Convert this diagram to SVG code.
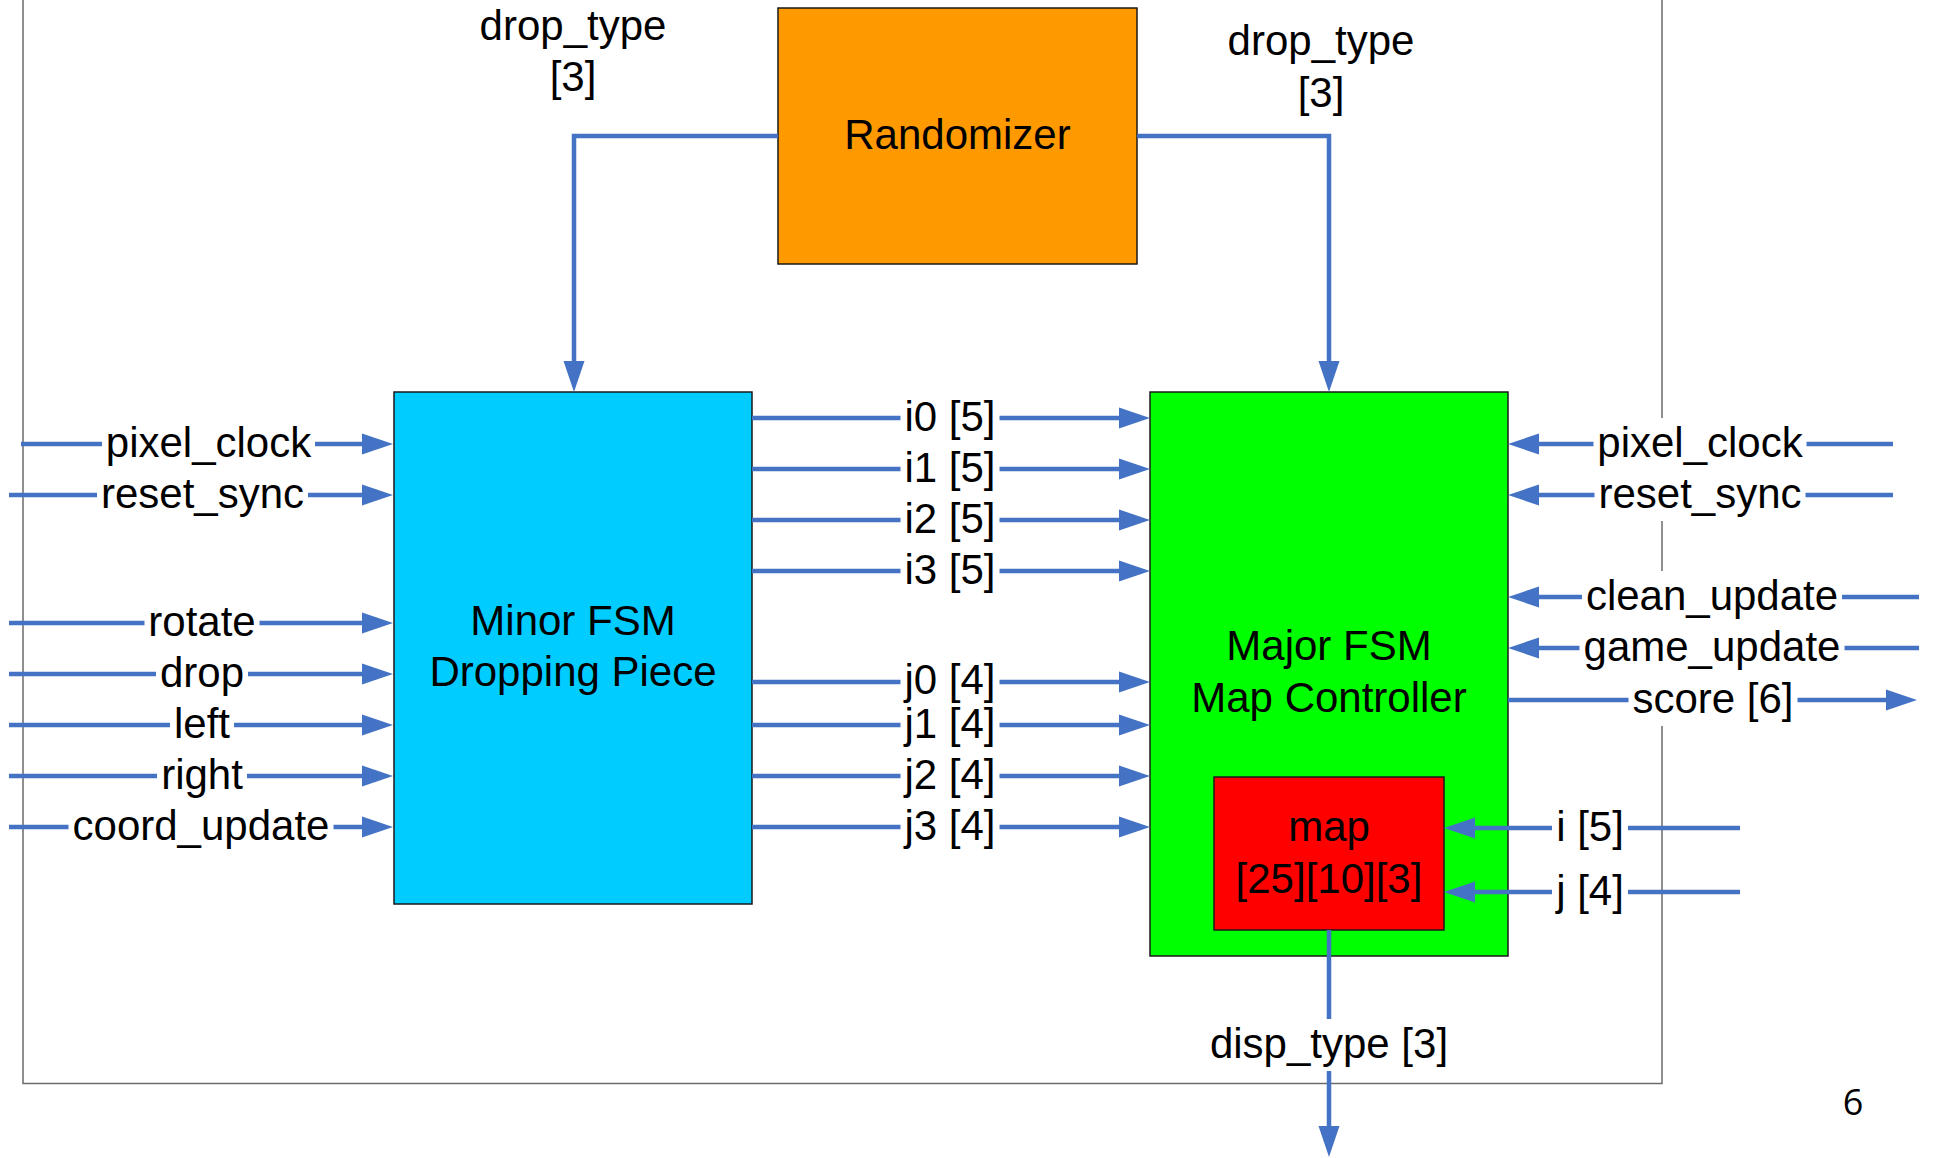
<svg xmlns="http://www.w3.org/2000/svg" width="1933" height="1158" viewBox="0 0 1933 1158">
<defs>
<style>
.conn{stroke:#4472C4;stroke-width:4.5;fill:none}
.lbl{font-family:"Liberation Sans",Arial,sans-serif;font-size:42px;text-anchor:middle;fill:#000}
.bg{fill:#fff}
.box{stroke:#1a1a1a;stroke-width:1.5}
</style>
<marker id="ah" markerUnits="userSpaceOnUse" markerWidth="31" markerHeight="21" refX="0" refY="10.5" orient="auto" overflow="visible">
<path d="M0,0 L31,10.5 L0,21 z" fill="#4472C4"/>
</marker>
</defs>
<rect width="1933" height="1158" fill="#fff"/>
<g id="frame">
<path d="M23,0 V1083.5 H1662 V0" fill="none" stroke="#6b6b6b" stroke-width="1.5"/>
</g>
<g id="randomizer">
<rect class="box" x="778" y="8" width="359" height="256" fill="#FF9900"/>
<text class="lbl" x="957.5" y="149">Randomizer</text>
</g>
<g id="minor-fsm">
<rect class="box" x="394" y="392" width="358" height="512" fill="#00CCFF"/>
<text class="lbl" x="573" y="635">Minor FSM</text>
<text class="lbl" x="573" y="686">Dropping Piece</text>
</g>
<g id="major-fsm">
<rect class="box" x="1150" y="392" width="358" height="564" fill="#00FF00"/>
<text class="lbl" x="1329" y="660">Major FSM</text>
<text class="lbl" x="1329" y="712">Map Controller</text>
</g>
<g id="map">
<rect class="box" x="1214" y="777" width="230" height="153" fill="#FF0000"/>
<text class="lbl" x="1329" y="841">map</text>
<text class="lbl" x="1329" y="893">[25][10][3]</text>
</g>
<g id="connectors">
<path class="conn" d="M778,136 H574 V361" marker-end="url(#ah)"/>
<path class="conn" d="M1137,136 H1329 V361" marker-end="url(#ah)"/>
<path class="conn" d="M1329,930 V1126" marker-end="url(#ah)"/>
<path class="conn" d="M21,444 H362" marker-end="url(#ah)"/>
<path class="conn" d="M9,495 H362" marker-end="url(#ah)"/>
<path class="conn" d="M9,623 H362" marker-end="url(#ah)"/>
<path class="conn" d="M9,674 H362" marker-end="url(#ah)"/>
<path class="conn" d="M9,725 H362" marker-end="url(#ah)"/>
<path class="conn" d="M9,776 H362" marker-end="url(#ah)"/>
<path class="conn" d="M9,827 H362" marker-end="url(#ah)"/>
<path class="conn" d="M752,418 H1119" marker-end="url(#ah)"/>
<path class="conn" d="M752,469 H1119" marker-end="url(#ah)"/>
<path class="conn" d="M752,520 H1119" marker-end="url(#ah)"/>
<path class="conn" d="M752,571 H1119" marker-end="url(#ah)"/>
<path class="conn" d="M752,682 H1119" marker-end="url(#ah)"/>
<path class="conn" d="M752,725 H1119" marker-end="url(#ah)"/>
<path class="conn" d="M752,776 H1119" marker-end="url(#ah)"/>
<path class="conn" d="M752,827 H1119" marker-end="url(#ah)"/>
<path class="conn" d="M1893,444 H1539" marker-end="url(#ah)"/>
<path class="conn" d="M1893,495 H1539" marker-end="url(#ah)"/>
<path class="conn" d="M1919,597 H1539" marker-end="url(#ah)"/>
<path class="conn" d="M1919,648 H1539" marker-end="url(#ah)"/>
<path class="conn" d="M1508,700 H1886" marker-end="url(#ah)"/>
<path class="conn" d="M1740,828 H1475" marker-end="url(#ah)"/>
<path class="conn" d="M1740,892 H1475" marker-end="url(#ah)"/>
<g id="label-bg">
<rect class="bg" x="102" y="418" width="213" height="52"/>
<rect class="bg" x="97" y="469" width="211" height="52"/>
<rect class="bg" x="144.5" y="597" width="115" height="52"/>
<rect class="bg" x="156" y="648" width="92" height="52"/>
<rect class="bg" x="170" y="699" width="64" height="52"/>
<rect class="bg" x="157" y="750" width="90" height="52"/>
<rect class="bg" x="68.5" y="801" width="265" height="52"/>
<rect class="bg" x="900.5" y="400" width="99" height="36"/>
<rect class="bg" x="900.5" y="451" width="99" height="36"/>
<rect class="bg" x="900.5" y="502" width="99" height="36"/>
<rect class="bg" x="900.5" y="553" width="99" height="36"/>
<rect class="bg" x="900.5" y="664" width="99" height="36"/>
<rect class="bg" x="900.5" y="707" width="99" height="36"/>
<rect class="bg" x="900.5" y="758" width="99" height="36"/>
<rect class="bg" x="900.5" y="809" width="99" height="36"/>
<rect class="bg" x="1593.5" y="418" width="213" height="52"/>
<rect class="bg" x="1594.5" y="469" width="211" height="52"/>
<rect class="bg" x="1582" y="571" width="260" height="52"/>
<rect class="bg" x="1579.5" y="622" width="265" height="52"/>
<rect class="bg" x="1628.5" y="674" width="169" height="52"/>
<rect class="bg" x="1552" y="802" width="76" height="52"/>
<rect class="bg" x="1552" y="866" width="76" height="52"/>
<rect class="bg" x="1206" y="1019" width="246" height="52"/>
</g>
<g id="labels">
<text class="lbl" x="573" y="40">drop_type</text>
<text class="lbl" x="573" y="91">[3]</text>
<text class="lbl" x="1321" y="55">drop_type</text>
<text class="lbl" x="1321" y="107">[3]</text>
<text class="lbl" x="208.5" y="457">pixel_clock</text>
<text class="lbl" x="202.5" y="508">reset_sync</text>
<text class="lbl" x="202" y="636">rotate</text>
<text class="lbl" x="202" y="687">drop</text>
<text class="lbl" x="202" y="738">left</text>
<text class="lbl" x="202" y="789">right</text>
<text class="lbl" x="201" y="840">coord_update</text>
<text class="lbl" x="950" y="431">i0 [5]</text>
<text class="lbl" x="950" y="482">i1 [5]</text>
<text class="lbl" x="950" y="533">i2 [5]</text>
<text class="lbl" x="950" y="584">i3 [5]</text>
<text class="lbl" x="950" y="694">j0 [4]</text>
<text class="lbl" x="950" y="738">j1 [4]</text>
<text class="lbl" x="950" y="789">j2 [4]</text>
<text class="lbl" x="950" y="840">j3 [4]</text>
<text class="lbl" x="1700" y="457">pixel_clock</text>
<text class="lbl" x="1700" y="508">reset_sync</text>
<text class="lbl" x="1712" y="610">clean_update</text>
<text class="lbl" x="1712" y="661">game_update</text>
<text class="lbl" x="1713" y="713">score [6]</text>
<text class="lbl" x="1590" y="841">i [5]</text>
<text class="lbl" x="1590" y="905">j [4]</text>
<text class="lbl" x="1329" y="1058">disp_type [3]</text>
</g>
</g>
<text x="1853" y="1115" style="font-family:'Open Sans','Noto Sans',sans-serif;font-size:36px;text-anchor:middle;fill:#000">6</text>
</svg>
